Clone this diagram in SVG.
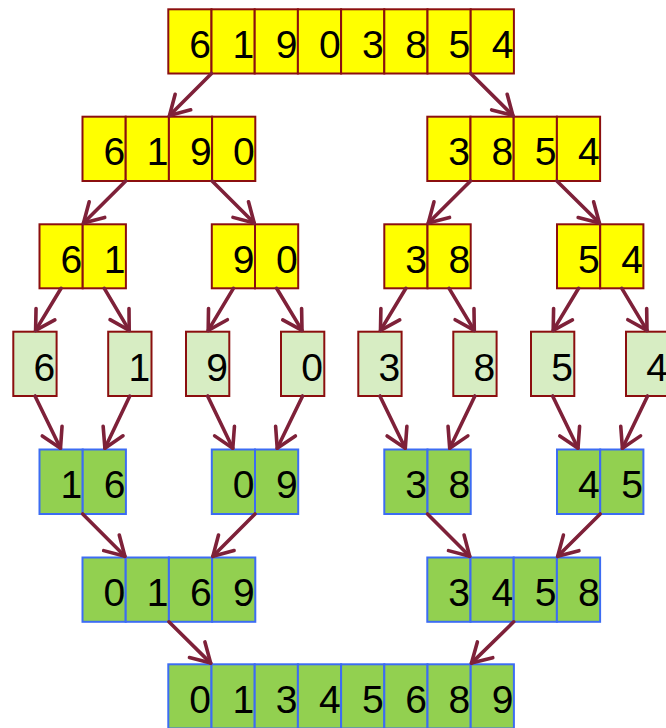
<svg xmlns="http://www.w3.org/2000/svg" width="666" height="728" viewBox="0 0 666 728">
<style>
.y{fill:#FFFF00;stroke:#8B0F0F;stroke-width:2}
.l{fill:#D7EDC3;stroke:#8B0F0F;stroke-width:2}
.g{fill:#92D050;stroke:#3C6CF3;stroke-width:2}
text{font-family:"Liberation Sans",Arial,sans-serif;font-size:39px;fill:#000;text-anchor:end}
.c line{stroke:#7E2139;stroke-width:3.6;stroke-linecap:round;marker-end:url(#ah)}
</style>
<defs>
<marker id="ah" markerUnits="userSpaceOnUse" viewBox="-25 -15 30 30" refX="0" refY="0" markerWidth="30" markerHeight="30" orient="auto" overflow="visible">
<path d="M-19,-11 L0,0 L-19,11" fill="none" stroke="#7E2139" stroke-width="3.6" stroke-linecap="round" stroke-linejoin="round"/>
</marker>
</defs>

<g id="n1">
<rect class="y" x="168.3" y="9.3" width="43.2" height="64.2"/><text x="211" y="57.5">6</text>
<rect class="y" x="211.5" y="9.3" width="43.2" height="64.2"/><text x="254.2" y="57.5">1</text>
<rect class="y" x="254.7" y="9.3" width="43.2" height="64.2"/><text x="297.4" y="57.5">9</text>
<rect class="y" x="297.9" y="9.3" width="43.2" height="64.2"/><text x="340.6" y="57.5">0</text>
<rect class="y" x="341.1" y="9.3" width="43.2" height="64.2"/><text x="383.8" y="57.5">3</text>
<rect class="y" x="384.3" y="9.3" width="43.2" height="64.2"/><text x="427" y="57.5">8</text>
<rect class="y" x="427.5" y="9.3" width="43.2" height="64.2"/><text x="470.2" y="57.5">5</text>
<rect class="y" x="470.7" y="9.3" width="43.2" height="64.2"/><text x="513.4" y="57.5">4</text>
</g>

<g id="n2a">
<rect class="y" x="82.5" y="116.7" width="43.2" height="64.3"/><text x="125.2" y="165">6</text>
<rect class="y" x="125.7" y="116.7" width="43.2" height="64.3"/><text x="168.4" y="165">1</text>
<rect class="y" x="168.9" y="116.7" width="43.2" height="64.3"/><text x="211.6" y="165">9</text>
<rect class="y" x="212.1" y="116.7" width="43.2" height="64.3"/><text x="254.8" y="165">0</text>
</g>
<g id="n2b">
<rect class="y" x="427.3" y="116.7" width="43.2" height="64.3"/><text x="470" y="165">3</text>
<rect class="y" x="470.5" y="116.7" width="43.2" height="64.3"/><text x="513.2" y="165">8</text>
<rect class="y" x="513.7" y="116.7" width="43.2" height="64.3"/><text x="556.4" y="165">5</text>
<rect class="y" x="556.9" y="116.7" width="43.2" height="64.3"/><text x="599.6" y="165">4</text>
</g>

<g id="n3a">
<rect class="y" x="39.5" y="224.3" width="43.2" height="64"/><text x="82.2" y="272.5">6</text>
<rect class="y" x="82.7" y="224.3" width="43.2" height="64"/><text x="125.4" y="272.5">1</text>
</g>
<g id="n3b">
<rect class="y" x="211.8" y="224.3" width="43.2" height="64"/><text x="254.5" y="272.5">9</text>
<rect class="y" x="255" y="224.3" width="43.2" height="64"/><text x="297.7" y="272.5">0</text>
</g>
<g id="n3c">
<rect class="y" x="384.3" y="224.3" width="43.2" height="64"/><text x="427" y="272.5">3</text>
<rect class="y" x="427.5" y="224.3" width="43.2" height="64"/><text x="470.2" y="272.5">8</text>
</g>
<g id="n3d">
<rect class="y" x="557" y="224.3" width="43.2" height="64"/><text x="599.7" y="272.5">5</text>
<rect class="y" x="600.2" y="224.3" width="43.2" height="64"/><text x="642.9" y="272.5">4</text>
</g>

<g id="n4a"><rect class="l" x="13.3" y="331.7" width="43.3" height="64.3"/><text x="55.3" y="380.5">6</text></g>
<g id="n4b"><rect class="l" x="108.2" y="331.7" width="43.3" height="64.3"/><text x="150.2" y="380.5">1</text></g>
<g id="n4c"><rect class="l" x="186" y="331.7" width="43.3" height="64.3"/><text x="228" y="380.5">9</text></g>
<g id="n4d"><rect class="l" x="281" y="331.7" width="43.3" height="64.3"/><text x="323" y="380.5">0</text></g>
<g id="n4e"><rect class="l" x="358.3" y="331.7" width="43.3" height="64.3"/><text x="400.3" y="380.5">3</text></g>
<g id="n4f"><rect class="l" x="453.3" y="331.7" width="43.3" height="64.3"/><text x="495.3" y="380.5">8</text></g>
<g id="n4g"><rect class="l" x="531" y="331.7" width="43.3" height="64.3"/><text x="573" y="380.5">5</text></g>
<g id="n4h"><rect class="l" x="626" y="331.7" width="43.3" height="64.3"/><text x="668" y="380.5">4</text></g>

<g id="n5a">
<rect class="g" x="39.5" y="449.5" width="43.2" height="64.5"/><text x="82.2" y="497.8">1</text>
<rect class="g" x="82.7" y="449.5" width="43.2" height="64.5"/><text x="125.4" y="497.8">6</text>
</g>
<g id="n5b">
<rect class="g" x="211.8" y="449.5" width="43.2" height="64.5"/><text x="254.5" y="497.8">0</text>
<rect class="g" x="255" y="449.5" width="43.2" height="64.5"/><text x="297.7" y="497.8">9</text>
</g>
<g id="n5c">
<rect class="g" x="384.3" y="449.5" width="43.2" height="64.5"/><text x="427" y="497.8">3</text>
<rect class="g" x="427.5" y="449.5" width="43.2" height="64.5"/><text x="470.2" y="497.8">8</text>
</g>
<g id="n5d">
<rect class="g" x="557" y="449.5" width="43.2" height="64.5"/><text x="599.7" y="497.8">4</text>
<rect class="g" x="600.2" y="449.5" width="43.2" height="64.5"/><text x="642.9" y="497.8">5</text>
</g>

<g id="n6a">
<rect class="g" x="82.5" y="557.5" width="43.2" height="64.3"/><text x="125.2" y="605.8">0</text>
<rect class="g" x="125.7" y="557.5" width="43.2" height="64.3"/><text x="168.4" y="605.8">1</text>
<rect class="g" x="168.9" y="557.5" width="43.2" height="64.3"/><text x="211.6" y="605.8">6</text>
<rect class="g" x="212.1" y="557.5" width="43.2" height="64.3"/><text x="254.8" y="605.8">9</text>
</g>
<g id="n6b">
<rect class="g" x="427.3" y="557.5" width="43.2" height="64.3"/><text x="470" y="605.8">3</text>
<rect class="g" x="470.5" y="557.5" width="43.2" height="64.3"/><text x="513.2" y="605.8">4</text>
<rect class="g" x="513.7" y="557.5" width="43.2" height="64.3"/><text x="556.4" y="605.8">5</text>
<rect class="g" x="556.9" y="557.5" width="43.2" height="64.3"/><text x="599.6" y="605.8">8</text>
</g>

<g id="n7">
<rect class="g" x="168.3" y="664.3" width="43.2" height="64.2"/><text x="211" y="712.5">0</text>
<rect class="g" x="211.5" y="664.3" width="43.2" height="64.2"/><text x="254.2" y="712.5">1</text>
<rect class="g" x="254.7" y="664.3" width="43.2" height="64.2"/><text x="297.4" y="712.5">3</text>
<rect class="g" x="297.9" y="664.3" width="43.2" height="64.2"/><text x="340.6" y="712.5">4</text>
<rect class="g" x="341.1" y="664.3" width="43.2" height="64.2"/><text x="383.8" y="712.5">5</text>
<rect class="g" x="384.3" y="664.3" width="43.2" height="64.2"/><text x="427" y="712.5">6</text>
<rect class="g" x="427.5" y="664.3" width="43.2" height="64.2"/><text x="470.2" y="712.5">8</text>
<rect class="g" x="470.7" y="664.3" width="43.2" height="64.2"/><text x="513.4" y="712.5">9</text>
</g>

<g id="connectors" class="c">
<line x1="211.5" y1="73.5" x2="169.5" y2="115.5"/>
<line x1="470.7" y1="73.5" x2="512.9" y2="115.5"/>
<line x1="125.7" y1="181" x2="83.5" y2="223"/>
<line x1="212.1" y1="181" x2="254.2" y2="223"/>
<line x1="470.5" y1="181" x2="428.3" y2="223"/>
<line x1="556.9" y1="181" x2="599.4" y2="223"/>
<line x1="61.1" y1="288.3" x2="35.6" y2="330.4"/>
<line x1="104.3" y1="288.3" x2="129.2" y2="330.4"/>
<line x1="233.4" y1="288.3" x2="208.2" y2="330.4"/>
<line x1="276.6" y1="288.3" x2="302" y2="330.4"/>
<line x1="405.9" y1="288.3" x2="380.5" y2="330.4"/>
<line x1="449.1" y1="288.3" x2="474.3" y2="330.4"/>
<line x1="578.6" y1="288.3" x2="553.2" y2="330.4"/>
<line x1="621.8" y1="288.3" x2="647" y2="330.4"/>
<line x1="35" y1="396" x2="60.5" y2="448.2"/>
<line x1="129.8" y1="396" x2="104.9" y2="448.2"/>
<line x1="207.6" y1="396" x2="232.8" y2="448.2"/>
<line x1="302.6" y1="396" x2="277.2" y2="448.2"/>
<line x1="379.9" y1="396" x2="405.3" y2="448.2"/>
<line x1="474.9" y1="396" x2="449.7" y2="448.2"/>
<line x1="552.6" y1="396" x2="578" y2="448.2"/>
<line x1="647.6" y1="396" x2="622.4" y2="448.2"/>
<line x1="82.7" y1="514" x2="124.9" y2="556.3"/>
<line x1="255" y1="514" x2="212.9" y2="556.3"/>
<line x1="427.5" y1="514" x2="469.7" y2="556.3"/>
<line x1="600.2" y1="514" x2="557.7" y2="556.3"/>
<line x1="168.9" y1="621.8" x2="210.7" y2="663.1"/>
<line x1="513.7" y1="621.8" x2="471.5" y2="663.1"/>
</g>
</svg>
